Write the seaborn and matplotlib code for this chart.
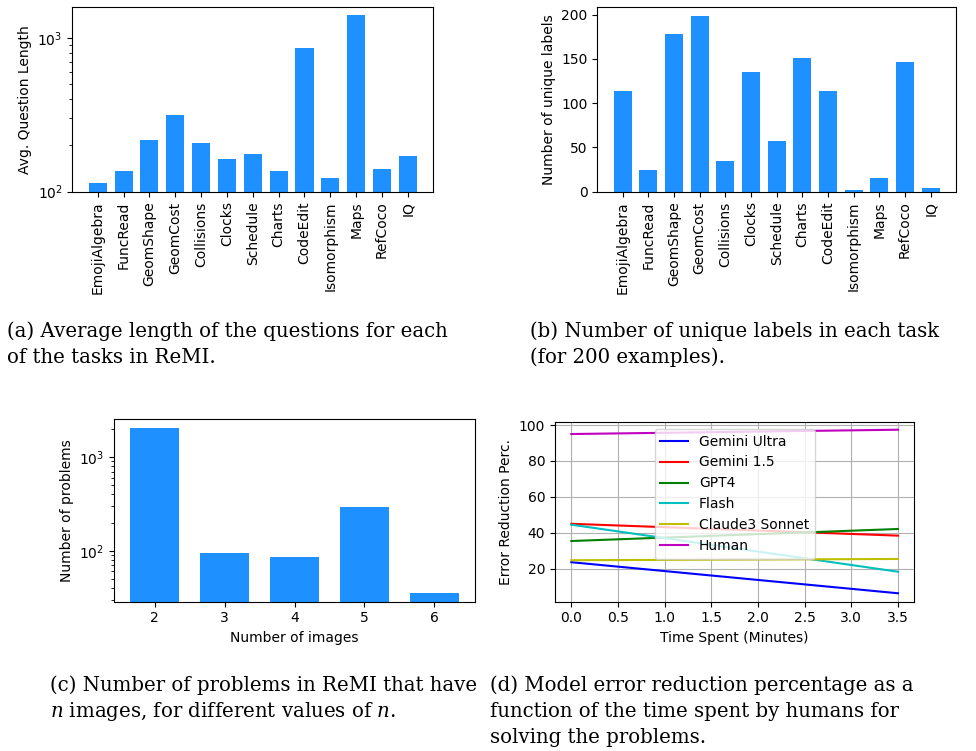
import pandas as pd
import matplotlib
matplotlib.use("Agg")
import matplotlib.pyplot as plt
import seaborn as sns

plt.rcParams['mathtext.fontset'] = 'dejavuserif'

# -----------------------------------------
# data
# -----------------------------------------
tasks = ['EmojiAlgebra', 'FuncRead', 'GeomShape', 'GeomCost', 'Collisions', 'Clocks',
         'Schedule', 'Charts', 'CodeEdit', 'Isomorphism', 'Maps', 'RefCoco', 'IQ']
avg_question_length = [114, 136, 217, 315, 207, 163, 176, 136, 857, 123, 1403, 140, 171]
unique_labels = [114, 24, 178, 199, 35, 135, 57, 151, 114, 2, 15, 147, 4]

n_images = ['2', '3', '4', '5', '6']
n_problems = [2070, 94, 85, 290, 35]

time_spent = [0.0, 3.5]
models = ['Gemini Ultra', 'Gemini 1.5', 'GPT4', 'Flash', 'Claude3 Sonnet', 'Human']
err_start = [23.6, 45.0, 35.4, 44.5, 24.7, 95.0]
err_end = [6.3, 38.4, 42.1, 18.3, 25.4, 97.4]
model_colors = ['b', 'r', 'g', 'c', 'y', 'm']

BAR = '#1E90FF'

fig = plt.figure(figsize=(9.76, 7.51), dpi=100)
W, H = 976, 751

def px_axes(left, top, right, bottom):
    return fig.add_axes([left / W, 1 - bottom / H, (right - left) / W, (bottom - top) / H])

# (a) average question length, log scale
ax_a = px_axes(72.3, 6.7, 433.3, 191.7)
df_a = pd.DataFrame({'task': tasks, 'len': avg_question_length})
sns.barplot(data=df_a, x='task', y='len', color=BAR, saturation=1, width=0.7, ax=ax_a)
ax_a.set_yscale('log')
ax_a.set_ylim(100, 1590)
ax_a.set_xlim(-0.985, 12.985)
ax_a.set_xlabel('')
ax_a.set_ylabel('Avg. Question Length')
ax_a.tick_params(axis='x', rotation=90)

# (b) unique labels
ax_b = px_axes(597.3, 6.7, 956, 191.7)
df_b = pd.DataFrame({'task': tasks, 'labels': unique_labels})
sns.barplot(data=df_b, x='task', y='labels', color=BAR, saturation=1, width=0.7, ax=ax_b)
ax_b.set_ylim(0, 209)
ax_b.set_xlim(-0.985, 12.985)
ax_b.set_xlabel('')
ax_b.set_ylabel('Number of unique labels')
ax_b.tick_params(axis='x', rotation=90)

# (c) problems per number of images, log scale
ax_c = px_axes(114, 419.3, 475, 601.7)
df_c = pd.DataFrame({'n': n_images, 'count': n_problems})
sns.barplot(data=df_c, x='n', y='count', color=BAR, saturation=1, width=0.7, ax=ax_c)
ax_c.set_yscale('log')
ax_c.set_ylim(28.5, 2540)
ax_c.set_xlim(-0.585, 4.585)
ax_c.set_xlabel('Number of images')
ax_c.set_ylabel('Number of problems')

# (d) error reduction vs time
ax_d = px_axes(555, 422, 914.3, 601.7)
rows = []
for m, s, e in zip(models, err_start, err_end):
    rows.append({'model': m, 'time': time_spent[0], 'err': s})
    rows.append({'model': m, 'time': time_spent[1], 'err': e})
df_d = pd.DataFrame(rows)
sns.lineplot(data=df_d, x='time', y='err', hue='model', hue_order=models,
             palette=dict(zip(models, model_colors)), linewidth=1.5, ax=ax_d)
ax_d.set_xlim(-0.175, 3.675)
ax_d.set_ylim(1.6, 101.7)
ax_d.grid(True)
ax_d.set_xlabel('Time Spent (Minutes)')
ax_d.set_ylabel('Error Reduction Perc.')
sns.move_legend(ax_d, 'upper center', title=None, fontsize=10)

# captions
cap = dict(family='DejaVu Serif', fontsize=14.2, va='baseline', ha='left')
fig.text(7 / W, 1 - 337 / H, '(a) Average length of the questions for each', **cap)
fig.text(7 / W, 1 - 363 / H, 'of the tasks in ReMI.', **cap)
fig.text(530 / W, 1 - 337 / H, '(b) Number of unique labels in each task', **cap)
fig.text(530 / W, 1 - 363 / H, '(for 200 examples).', **cap)
fig.text(50 / W, 1 - 691 / H, '(c) Number of problems in ReMI that have', **cap)
fig.text(50 / W, 1 - 717 / H, '$n$ images, for different values of $n$.', **cap)
fig.text(490 / W, 1 - 691 / H, '(d) Model error reduction percentage as a', **cap)
fig.text(490 / W, 1 - 717 / H, 'function of the time spent by humans for', **cap)
fig.text(490 / W, 1 - 743 / H, 'solving the problems.', **cap)

fig.savefig('out.png', dpi=100)
